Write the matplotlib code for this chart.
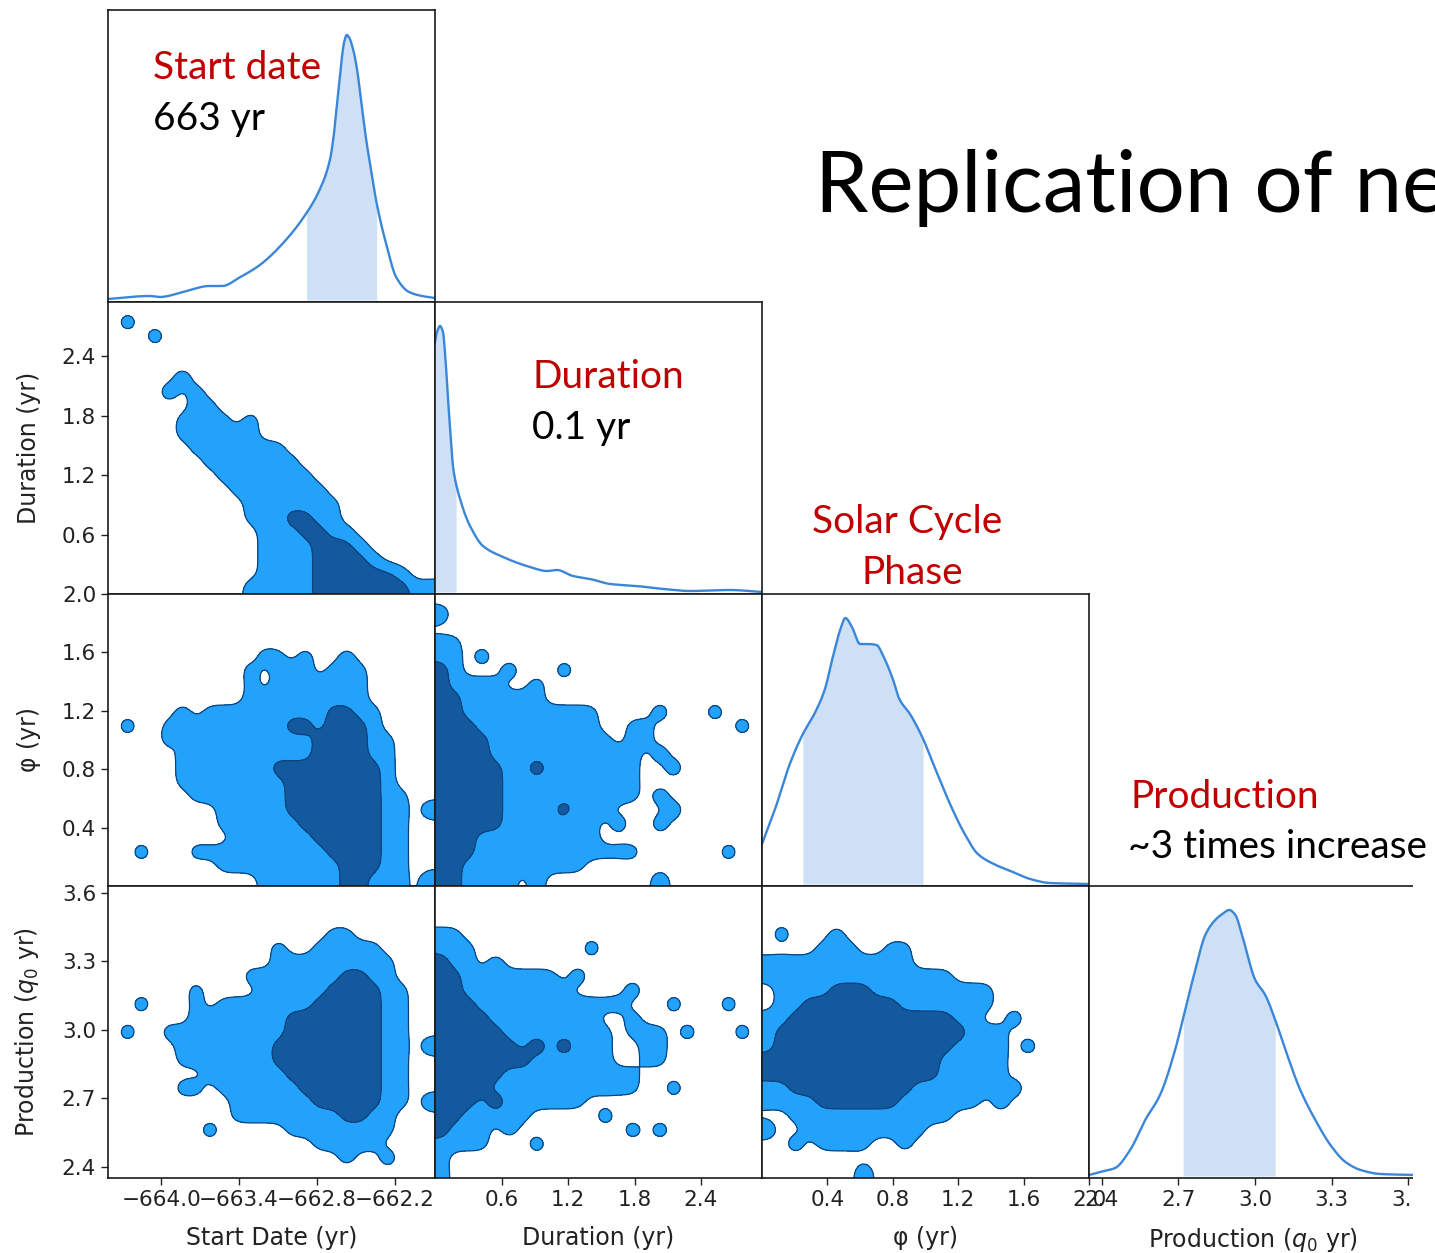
import numpy as np
import matplotlib
matplotlib.use("Agg")
import matplotlib.pyplot as plt
from matplotlib.patches import Rectangle
from matplotlib.ticker import FixedLocator, FuncFormatter, NullLocator

FIG_W, FIG_H, DPI = 1435, 1253, 100

# ---- parameters: axis ranges, ticks and labels ----
params = ["start", "dur", "phi", "prod"]
limits = {"start": (-664.41, -661.89), "dur": (0.0, 2.95), "phi": (0.0, 2.0), "prod": (2.35, 3.63)}
tick_vals = {
    "start": [-664.0, -663.4, -662.8, -662.2],
    "dur": [0.6, 1.2, 1.8, 2.4],
    "phi": [0.4, 0.8, 1.2, 1.6, 2.0],
    "prod": [2.4, 2.7, 3.0, 3.3, 3.6],
}
axis_labels = {
    "start": "Start Date (yr)",
    "dur": "Duration (yr)",
    "phi": "φ (yr)",
    "prod": r"Production ($q_0$ yr)",
}

# ---- 1-D marginal densities (arbitrary units) and shaded intervals ----
start_x = [-664.41, -664.09, -664.01, -663.83, -663.63, -663.53, -663.39, -663.24, -663.06,
           -662.88, -662.78, -662.70, -662.67, -662.65, -662.63, -662.61, -662.59, -662.57,
           -662.55, -662.52, -662.49, -662.46, -662.42, -662.38, -662.34, -662.26, -662.19,
           -662.09, -661.99, -661.89]
start_d = [1, 4, 3, 8, 14, 14, 23, 35, 57, 87, 110, 140, 165, 190, 215, 240, 258, 265,
           262, 250, 230, 200, 160, 128, 97, 53, 23, 8, 4, 2]
start_band = (-662.88, -662.34)

dur_x = [0.0, 0.018, 0.045, 0.072, 0.095, 0.117, 0.14, 0.162, 0.19, 0.226, 0.27, 0.316,
         0.433, 0.614, 0.857, 1.01, 1.10, 1.245, 1.40, 1.58, 1.82, 2.06, 2.30, 2.66, 2.95]
dur_d = [250, 260, 266, 260, 232, 193, 158, 126, 108, 93, 78, 66, 46, 35, 25, 21, 22, 16,
         13, 8, 6, 3, 1, 2, 0]
dur_band = (0.0, 0.19)

phi_x = [0.0, 0.08, 0.17, 0.25, 0.32, 0.385, 0.43, 0.48, 0.51, 0.55, 0.60, 0.65, 0.70,
         0.75, 0.80, 0.84, 0.905, 0.98, 1.06, 1.15, 1.24, 1.32, 1.43, 1.52, 1.64, 1.76, 2.0]
phi_d = [40, 75, 120, 150, 170, 195, 225, 255, 266, 257, 240, 240, 239, 225, 205, 185, 170,
         147, 115, 80, 50, 30, 19, 13, 5, 1, 0]
phi_band = (0.25, 0.985)

prod_x = [2.350, 2.393, 2.452, 2.511, 2.570, 2.628, 2.687, 2.726, 2.766, 2.805, 2.844, 2.872,
          2.899, 2.923, 2.950, 3.001, 3.040, 3.079, 3.119, 3.177, 3.236, 3.295, 3.354, 3.413,
          3.491, 3.632]
prod_d = [1, 4, 8, 26, 56, 81, 126, 166, 206, 241, 256, 262, 266, 261, 240, 196, 181, 156,
          126, 86, 56, 31, 14, 6, 2, 1]
prod_band = (2.719, 3.079)

# ---- 2-D credible regions: '.' outside, '1' outer region, '2' inner region ----
# rows run from the top of the panel (max y) to the bottom, columns from min x to max x
dur_vs_start = [
    "........................",
    ".1......................",
    "...1....................",
    "........................",
    "........................",
    ".....1..................",
    "....1.1.................",
    "......11................",
    ".....1111.1.............",
    ".....111111.............",
    "......1111111...........",
    ".......1111111..........",
    "........1111111.........",
    ".........1111111........",
    "..........1111111.......",
    "..........1112211.......",
    "...........1112211......",
    "...........11112221.....",
    "...........111122221....",
    "...........11112222221..",
    "..........11111222222211",
]
phi_vs_start = [
    "........................",
    "........................",
    "........................",
    "........................",
    "...........11.1..1......",
    "..........1.111.111.....",
    "..........1.1111111.....",
    "..........111111111.....",
    ".....1.1111111112211....",
    ".1..1111111112212221....",
    "....1.111111111222211...",
    ".....1111111111222211...",
    ".....1111111222222221...",
    ".....1111111122222221...",
    "......1111111222222211..",
    "........11111222222211.1",
    "........11111122222211..",
    ".........1111112222211..",
    "..1...1111111111222211..",
    "........11111111122211..",
    "...........11111122111.1",
]
phi_vs_dur = [
    "........................",
    "1.......................",
    "........................",
    "11......................",
    "11.1....................",
    "21...1...1..............",
    "21111..1................",
    "22111111................",
    "221111111111....1...1...",
    "222111111111..11......1.",
    "2222111111111.11........",
    "222211111111111.1.......",
    "222221121111111..1......",
    "222221111111111.........",
    "22222111111.111.1.......",
    "2222211112111....1......",
    "2222211111.1.1..1.......",
    "222111111111............",
    "222111111111111......1..",
    "22111111111.............",
    "221111.1........1.......",
]
prod_vs_start = [
    "........................",
    "........................",
    "........................",
    "................11......",
    "............1..11111....",
    "............111111111...",
    "..........11111112211...",
    "......1....11111222211..",
    "..1...1.11111112222211..",
    "......1111111222222211..",
    ".1..111111111222222211..",
    ".....11111112222222211.1",
    ".....11111112222222211..",
    ".......111111222222211..",
    ".....11.11111122222211..",
    ".........1111112222211.1",
    ".........111111112211...",
    ".......1.....11111111...",
    "...............11111....",
    ".................1..1...",
    "........................",
]
prod_vs_dur = [
    "........................",
    "........................",
    "........................",
    "11......................",
    "111........1............",
    "211.1...................",
    "221111111.1.............",
    "2211111111....1.........",
    "22211111111111...1...1..",
    "222211111111..1.........",
    "2222211111111.111.1...1.",
    "2222221212111..11.......",
    "2222222111111..11.......",
    "222221111111111.........",
    "222211111111111..1......",
    "22212111111.............",
    "2211111.....1...........",
    "2111.1........1.1.......",
    "1111...1................",
    "1.......................",
    "1.......................",
]
prod_vs_phi = [
    "........................",
    "........................",
    "........................",
    ".1...1..................",
    "....111..11.............",
    "11111111111.............",
    "11111111111111..........",
    ".1111222111111111.......",
    ".1122222221111111.......",
    "1122222222222211..1.....",
    "122222222222222111......",
    "122222222222221111.1....",
    "222222222222211111......",
    "222222222222211111......",
    "11222222222111111.1.....",
    "1111222222111111.1......",
    "..111111111111..........",
    "1..111111111............",
    "..1.1111..1.............",
    "........................",
    ".......1................",
]

marginals = {
    "start": (start_x, start_d, start_band),
    "dur": (dur_x, dur_d, dur_band),
    "phi": (phi_x, phi_d, phi_band),
    "prod": (prod_x, prod_d, prod_band),
}
regions = {
    ("dur", "start"): dur_vs_start,
    ("phi", "start"): phi_vs_start,
    ("phi", "dur"): phi_vs_dur,
    ("prod", "start"): prod_vs_start,
    ("prod", "dur"): prod_vs_dur,
    ("prod", "phi"): prod_vs_phi,
}

# ---- colours ----
LIGHT = "#22a2fb"
DARK = "#13599d"
EDGE = "#0c437e"
LINE = "#3a86d8"
SHADE = "#cde0f5"
RED = "#c00000"


def _blur(a, s):
    rad = int(np.ceil(3 * s))
    k = np.exp(-0.5 * (np.arange(-rad, rad + 1) / s) ** 2)
    k /= k.sum()
    p = np.pad(a, rad, mode="edge")
    p = np.apply_along_axis(lambda v: np.convolve(v, k, mode="valid"), 1, p)
    p = np.apply_along_axis(lambda v: np.convolve(v, k, mode="valid"), 0, p)
    return p


def _layer(mask, up, s):
    """Smoothed indicator of one credible level; lone cells get extra weight."""
    m = mask.astype(float)
    pm = np.pad(m, 1)
    nb = pm[:-2, 1:-1] + pm[2:, 1:-1] + pm[1:-1, :-2] + pm[1:-1, 2:]
    w = np.where(nb == 0, 1.6, np.where(nb == 1, 1.25, 1.0))
    fine = np.kron(m * w, np.ones((up, up)))
    return _blur(fine, s)


def smooth_levels(rows, up=8, sigma=0.55):
    g = np.array([[0.0 if c == "." else float(c) for c in r.ljust(24, ".")[:24]] for r in rows])
    s = sigma * up
    return _layer(g >= 1, up, s) + _layer(g >= 2, up, s)


def draw_region(ax, rows, xr, yr):
    z = smooth_levels(rows)
    ny, nx = z.shape
    x = np.linspace(xr[0], xr[1], nx)
    y = np.linspace(yr[1], yr[0], ny)
    ax.contourf(x, y, z, levels=[0.5, 1.5, 10], colors=[LIGHT, DARK])
    ax.contour(x, y, z, levels=[0.5, 1.5], colors=[EDGE], linewidths=0.9)


def pchip(x, y, xf):
    """Shape-preserving cubic through the given points."""
    x = np.asarray(x, float)
    y = np.asarray(y, float)
    h = np.diff(x)
    d = np.diff(y) / h
    n = len(x)
    m = np.zeros(n)
    m[0], m[-1] = d[0], d[-1]
    for k in range(1, n - 1):
        if d[k - 1] * d[k] > 0:
            w1 = 2 * h[k] + h[k - 1]
            w2 = h[k] + 2 * h[k - 1]
            m[k] = (w1 + w2) / (w1 / d[k - 1] + w2 / d[k])
    idx = np.clip(np.searchsorted(x, xf) - 1, 0, n - 2)
    t = (xf - x[idx]) / h[idx]
    h00 = 2 * t**3 - 3 * t**2 + 1
    h10 = t**3 - 2 * t**2 + t
    h01 = -2 * t**3 + 3 * t**2
    h11 = t**3 - t**2
    return h00 * y[idx] + h10 * h[idx] * m[idx] + h01 * y[idx + 1] + h11 * h[idx] * m[idx + 1]


def draw_marginal(ax, xs, ds, band):
    xf = np.linspace(xs[0], xs[-1], 800)
    yf = pchip(xs, ds, xf)
    xb = np.linspace(band[0], band[1], 300)
    ax.fill_between(xb, 0, pchip(xs, ds, xb), color=SHADE, lw=0)
    ax.plot(xf, yf, color=LINE, lw=1.7, solid_joinstyle="round")
    ax.set_ylim(-2, 290)


def fmt(v, pos=None):
    return f"{v:.1f}".replace("-", "\u2212")


fig = plt.figure(figsize=(FIG_W / DPI, FIG_H / DPI), dpi=DPI)
fig.patch.set_facecolor("white")

col_left = [108, 435, 762, 1089]
row_top = [10, 302, 594, 886]
CW, RH = 327, 292

for i, pr in enumerate(params):
    for j, pc in enumerate(params[: i + 1]):
        ax = fig.add_axes([col_left[j] / FIG_W, 1 - (row_top[i] + RH) / FIG_H, CW / FIG_W, RH / FIG_H])
        for sp in ax.spines.values():
            sp.set_linewidth(1.2)
            sp.set_color("#1a1a1a")
        ax.set_xlim(limits[pc])
        if i == j:
            xs, ds, band = marginals[pr]
            draw_marginal(ax, xs, ds, band)
        else:
            ax.set_ylim(limits[pr])
            draw_region(ax, regions[(pr, pc)], limits[pc], limits[pr])

        ax.tick_params(direction="out", length=5, width=1.0, labelsize=15.5, pad=3.5,
                       colors="#222222")
        # x axis: only the bottom row carries ticks and labels
        if i == len(params) - 1:
            ax.xaxis.set_major_locator(FixedLocator(tick_vals[pc]))
            ax.xaxis.set_major_formatter(FuncFormatter(fmt))
            ax.set_xlabel(axis_labels[pc], fontsize=17, color="#222222")
            ax.xaxis.set_label_coords(0.5, (1178 - 1226) / RH)
        else:
            ax.xaxis.set_major_locator(NullLocator())
        # y axis: only the first column (below the top panel) carries ticks and labels
        if j == 0 and i > 0:
            ax.yaxis.set_major_locator(FixedLocator(tick_vals[pr]))
            ax.yaxis.set_major_formatter(FuncFormatter(fmt))
            ax.set_ylabel(axis_labels[pr], fontsize=17, color="#222222")
            ax.yaxis.set_label_coords((41 - 108) / CW, 0.5)
        else:
            ax.yaxis.set_major_locator(NullLocator())

# the slide crops the right-hand edge of the grid
fig.patches.append(Rectangle((1413 / FIG_W, 0), (FIG_W - 1413) / FIG_W, 1 - 870 / FIG_H,
                             transform=fig.transFigure, facecolor="white",
                             edgecolor="none", zorder=5))


def ftext(x, y, s, **kw):
    kw.setdefault("family", ["Lato", "DejaVu Sans"])
    kw.setdefault("va", "baseline")
    kw.setdefault("zorder", 10)
    fig.text(x / FIG_W, 1 - y / FIG_H, s, **kw)


ftext(815, 212, "Replication of ne", fontsize=61.5, color="black")
ftext(153, 79, "Start date", fontsize=28, color=RED)
ftext(153, 130, "663 yr", fontsize=28, color="black")
ftext(532, 388, "Duration", fontsize=28, color=RED)
ftext(532, 439, "0.1 yr", fontsize=28, color="black")
ftext(907, 533, "Solar Cycle", fontsize=28, color=RED, ha="center")
ftext(912, 584, "Phase", fontsize=28, color=RED, ha="center")
ftext(1130, 808, "Production", fontsize=28, color=RED)
ftext(1128, 858, "~3 times increase", fontsize=28, color="black")

fig.savefig("out.png", dpi=DPI, facecolor="white")
